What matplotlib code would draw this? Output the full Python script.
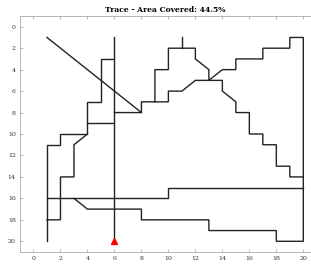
import matplotlib
matplotlib.use("Agg")
import matplotlib.pyplot as plt

# trace pieces (x, y) in grid coordinates
diag_x = [1, 8]
diag_y = [1, 8]

col6_x = [6, 6]
col6_y = [1, 20]

left_x = [6, 5, 5, 4, 4, 2, 2, 1, 1]
left_y = [3, 3, 7, 7, 10, 10, 11, 11, 20]

step9_x = [4, 6]
step9_y = [9, 9]

inner_x = [4, 3, 3, 2, 2, 1]
inner_y = [10, 11, 14, 14, 18, 18]

mid_x = [6, 8, 8, 10, 10, 11, 12, 14, 14, 15, 15, 16, 16, 17, 17, 18, 18, 19, 19, 20]
mid_y = [8, 8, 7, 7, 6, 6, 5, 5, 6, 7, 8, 8, 10, 10, 11, 11, 13, 13, 14, 14]

outer_x = [9, 9, 10, 10, 12, 12, 13, 13, 14, 15, 15, 17, 17, 19, 19, 20, 20,
           18, 18, 13, 13, 8, 8, 4, 3]
outer_y = [7, 4, 4, 2, 2, 3, 4, 5, 4, 4, 3, 3, 2, 2, 1, 1, 20,
           20, 19, 19, 18, 18, 17, 17, 16]

stub_x = [11, 11]
stub_y = [1, 2]

low_x = [1, 10, 10, 20]
low_y = [16, 16, 15, 15]

start_x = [6]
start_y = [20]

coverage = 44.5

plt.rcParams['font.family'] = ['DejaVu Serif']

fig = plt.figure(figsize=(3.11, 2.65), dpi=100)
ax = fig.add_axes([0.0643, 0.049, 0.9357, 0.8906])

pieces = [(diag_x, diag_y), (col6_x, col6_y), (left_x, left_y),
          (step9_x, step9_y), (inner_x, inner_y), (mid_x, mid_y),
          (outer_x, outer_y), (stub_x, stub_y), (low_x, low_y)]
for xs, ys in pieces:
    ax.plot(xs, ys, color='#222222', linewidth=1.0, solid_joinstyle='miter')

ax.plot(start_x, start_y, marker='^', color='red', markersize=5, linestyle='none')

ax.set_xlim(-1, 20.57)
ax.set_ylim(21, -1)
ax.set_xticks(range(0, 21, 2))
ax.set_yticks(range(0, 21, 2))
ax.tick_params(direction='in', length=2.5, width=0.5, colors='#999999',
               labelcolor='#333333', labelsize=4.5, top=True, pad=3)
for side in ['left', 'top', 'bottom']:
    ax.spines[side].set_color('#aaaaaa')
    ax.spines[side].set_linewidth(0.6)
ax.spines['right'].set_visible(False)

ax.set_title(f"Trace - Area Covered: {coverage}%", fontsize=5.5,
             fontweight='bold', pad=3)

fig.savefig("out.png", dpi=100)
